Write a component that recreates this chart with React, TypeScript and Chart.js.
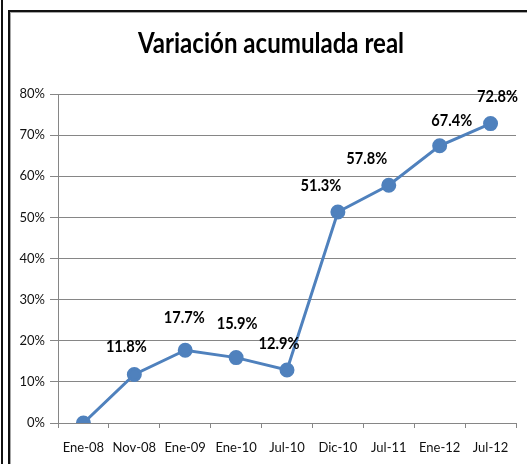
import React, { useEffect, useRef } from "react";
import { Chart, registerables } from "chart.js";

Chart.register(...registerables);

const categories = ["Ene-08", "Nov-08", "Ene-09", "Ene-10", "Jul-10", "Dic-10", "Jul-11", "Ene-12", "Jul-12"];
const values = [0, 11.8, 17.7, 15.9, 12.9, 51.3, 57.8, 67.4, 72.8];
const labelTexts = ["", "11.8%", "17.7%", "15.9%", "12.9%", "51.3%", "57.8%", "67.4%", "72.8%"];
const yMin = 0;
const yMax = 80;
const yStep = 10;
const titleText = "Variación acumulada real";

const FONT = "Lato, 'DejaVu Sans Condensed', sans-serif";
const LINE_COLOR = "#4F81BD";
const GRID_COLOR = "#868686";

// label placement relative to each point (style, not data)
const LABEL_DX = [0, -8, -1, 1, -8, -17, -22, 12, 7];
const LABEL_DY = [0, -28, -33, -34, -26, -27, -27, -25, -27];

function drawCondensed(ctx: any, text: string, x: number, y: number, font: string, sx: number) {
  ctx.save();
  ctx.font = font;
  ctx.fillStyle = "#000";
  ctx.textAlign = "center";
  ctx.textBaseline = "middle";
  ctx.translate(x, y);
  ctx.scale(sx, 1);
  ctx.fillText(text, 0, 0);
  ctx.restore();
}

const labelPlugin = {
  id: "pointLabels",
  afterDatasetsDraw(chart: any) {
    const ctx = chart.ctx;
    const meta = chart.getDatasetMeta(0);
    meta.data.forEach((pt: any, i: number) => {
      const t = labelTexts[i];
      if (!t) return;
      drawCondensed(ctx, t, pt.x + LABEL_DX[i], pt.y + LABEL_DY[i], `bold 17px ${FONT}`, 0.86);
    });
  },
};

const titlePlugin = {
  id: "customTitle",
  afterDraw(chart: any) {
    drawCondensed(chart.ctx, titleText, 261, 32, `bold 28px ${FONT}`, 0.86);
  },
};

export default function App() {
  const ref = useRef<HTMLCanvasElement | null>(null);
  useEffect(() => {
    if (!ref.current) return;
    const chart = new Chart(ref.current, {
      type: "line",
      data: {
        labels: categories,
        datasets: [
          {
            data: values,
            borderColor: LINE_COLOR,
            backgroundColor: LINE_COLOR,
            borderWidth: 3,
            pointRadius: 6,
            pointHoverRadius: 6,
            pointBackgroundColor: LINE_COLOR,
            pointBorderColor: LINE_COLOR,
            tension: 0,
          },
        ],
      },
      options: {
        animation: false,
        responsive: false,
        maintainAspectRatio: false,
        layout: { padding: { left: 0, right: 11, top: 82, bottom: 0 } },
        plugins: {
          legend: { display: false },
          tooltip: { enabled: false },
          title: { display: false },
        },
        scales: {
          x: {
            offset: true,
            grid: {
              offset: true,
              drawOnChartArea: false,
              drawTicks: true,
              tickLength: 5,
              color: GRID_COLOR,
            },
            border: { color: GRID_COLOR, width: 1 },
            ticks: {
              color: "#111",
              font: { family: FONT, size: 13 },
              padding: 12,
              maxRotation: 0,
              autoSkip: false,
            },
            afterFit: (s: any) => {
              s.height = 41;
            },
          },
          y: {
            min: yMin,
            max: yMax,
            grid: { color: GRID_COLOR, tickLength: 8, drawTicks: true },
            border: { color: GRID_COLOR, width: 1 },
            ticks: {
              stepSize: yStep,
              color: "#111",
              font: { family: FONT, size: 13 },
              padding: 5,
              callback: (v: any) => `${v}%`,
            },
            afterFit: (s: any) => {
              s.width = 48;
            },
          },
        },
      },
      plugins: [labelPlugin, titlePlugin],
    });
    return () => chart.destroy();
  }, []);

  return (
    <div
      style={{
        position: "fixed",
        left: 0,
        top: 0,
        width: 527,
        height: 464,
        overflow: "hidden",
        background: "#fff",
      }}
    >
      <div style={{ position: "absolute", left: 1, top: 0, width: 2, height: 464, background: "#111" }} />
      <div
        style={{
          position: "absolute",
          left: 8,
          top: 10,
          width: 530,
          height: 470,
          borderTop: "2px solid #111",
          borderLeft: "2px solid #111",
        }}
      />
      <div
        style={{
          position: "absolute",
          left: 10,
          top: 12,
          width: 530,
          height: 470,
          borderTop: "1px solid #a6a6a6",
          borderLeft: "1px solid #a6a6a6",
        }}
      />
      <canvas
        ref={ref}
        width={517}
        height={452}
        style={{ position: "absolute", left: 10, top: 12, width: 517, height: 452 }}
      />
    </div>
  );
}
